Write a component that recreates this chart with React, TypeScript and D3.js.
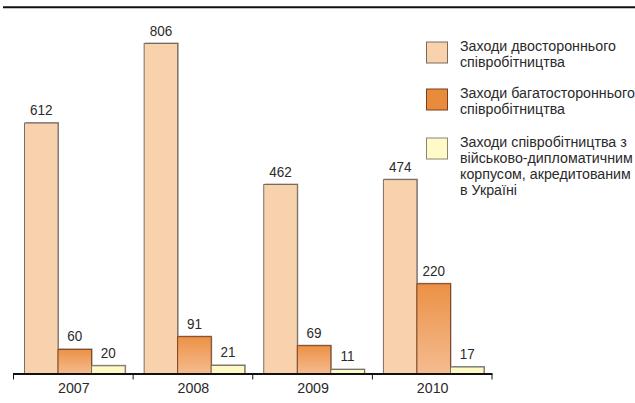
import React from "react";
import * as d3 from "d3";

const years = ["2007", "2008", "2009", "2010"];
const bilateral = [612, 806, 462, 474];
const multilateral = [60, 91, 69, 220];
const corps = [20, 21, 11, 17];
const seriesKeys = ["bilateral", "multilateral", "corps"];
const legendLabels = [
  ["Заходи двостороннього", "співробітництва"],
  ["Заходи багатостороннього", "співробітництва"],
  ["Заходи співробітництва з", "військово-дипломатичним", "корпусом, акредитованим", "в Україні"],
];

const FONT = "'Liberation Sans', Arial, sans-serif";

export default function App() {
  const W = 635, H = 403;
  const baseY = 374;
  const y = d3.scaleLinear().domain([0, 806]).range([baseY, 43.5]);
  const x = d3.scaleBand().domain(years).range([13.5, 492]).paddingInner(0).paddingOuter(0);
  const inner = d3.scaleBand().domain(seriesKeys).range([11, x.bandwidth() - 8]).padding(0);
  const seriesData = [bilateral, multilateral, corps];
  const fills = ["#F8D1AD", "url(#gradMulti)", "#FFF9C6"];
  const strokes = ["#6e625a", "#7a3f1a", "#6e6a5a"];
  const legendFills = ["#F8D1AD", "#E98B3C", "#FFFAC8"];
  const legendStrokes = ["#7d6a5e", "#7a3f1a", "#8a8670"];
  const legendTop = [42, 89, 138];
  const ticks = [...years.map((yr) => x(yr)!), x.range()[1]];

  return (
    <svg width={W} height={H} style={{ position: "absolute", left: 0, top: 0, background: "#fff" }}>
      <defs>
        <linearGradient id="gradMulti" x1="0" y1="0" x2="0" y2="1">
          <stop offset="0%" stopColor="#EC9146" />
          <stop offset="100%" stopColor="#F5BC90" />
        </linearGradient>
      </defs>
      <rect x={0} y={0} width={W} height={H} fill="#fff" />
      <line x1={3} x2={W} y1={7.3} y2={7.3} stroke="#111" strokeWidth={2} />
      {years.map((yr, i) => (
        <g key={yr} transform={`translate(${x(yr)},0)`}>
          {seriesKeys.map((k, s) => {
            const v = seriesData[s][i];
            const bx = inner(k)!;
            const bw = inner.bandwidth();
            const top = y(v);
            return (
              <g key={k}>
                <rect x={bx + 1} y={top - 1} width={bw} height={baseY - top + 1} fill="#9a9a9a" />
                <rect x={bx} y={top} width={bw} height={baseY - top} fill={fills[s]} stroke={strokes[s]} strokeWidth={0.9} />
                <text transform={`translate(${bx + bw / 2},${top - 8}) scale(0.9,1)`} textAnchor="middle" fontFamily={FONT} fontSize={15} fill="#2a2a2a">{v}</text>
              </g>
            );
          })}
          <text transform={`translate(${x.bandwidth() / 2 + 0.5},393) scale(0.95,1)`} textAnchor="middle" fontFamily={FONT} fontSize={15} fill="#2a2a2a">{yr}</text>
        </g>
      ))}
      <line x1={13} x2={492.5} y1={baseY} y2={baseY} stroke="#111" strokeWidth={2} />
      {ticks.map((t, i) => (
        <line key={i} x1={t} x2={t} y1={baseY} y2={baseY + 5.5} stroke="#111" strokeWidth={1} />
      ))}
      {legendLabels.map((lines, i) => (
        <g key={i}>
          <rect x={426.5} y={legendTop[i]} width={21} height={21} fill={legendFills[i]} stroke={legendStrokes[i]} strokeWidth={1} />
          {lines.map((ln, j) => (
            <text key={j} transform={`translate(460,${legendTop[i] + 9 + j * 16}) scale(0.95,1)`} fontFamily={FONT} fontSize={15} fill="#2a2a2a">{ln}</text>
          ))}
        </g>
      ))}
    </svg>
  );
}
